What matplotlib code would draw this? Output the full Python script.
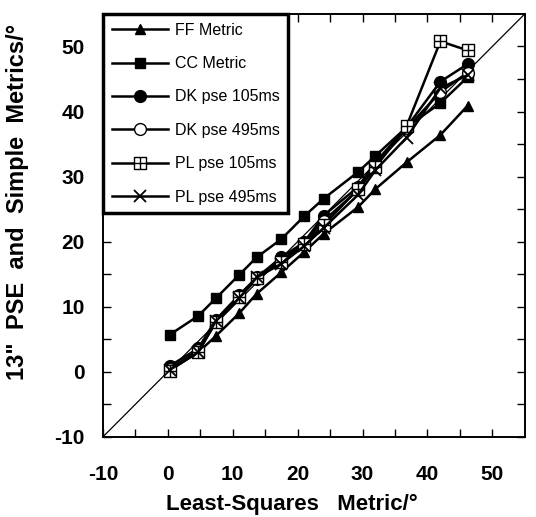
import numpy as np
import matplotlib.pyplot as plt
from matplotlib.path import Path

# least-squares metric (x) shared by all series
lsq = [0.3, 4.7, 7.4, 11.0, 13.7, 17.5, 21.0, 24.0, 29.3, 32.0, 36.8, 42.0, 46.2]

ff_metric = [0.3, 3.0, 5.5, 9.0, 12.0, 15.3, 18.4, 21.2, 25.3, 28.1, 32.2, 36.4, 40.9]
cc_metric = [5.7, 8.6, 11.3, 14.9, 17.6, 20.4, 23.9, 26.6, 30.7, 33.2, 37.6, 41.3, 45.3]
dk_105 = [0.9, 3.6, 8.0, 11.8, 14.5, 17.6, 19.9, 24.0, 28.4, 32.2, 37.6, 44.6, 47.3]
dk_495 = [0.4, 3.3, 7.6, 11.5, 14.2, 17.1, 19.8, 23.2, 27.9, 31.6, 37.4, 43.0, 46.0]
pl_105 = [0.2, 3.1, 7.6, 11.5, 14.4, 16.9, 19.6, 22.5, 28.1, 31.5, 37.8, 50.8, 49.4]
pl_495 = [0.3, 3.0, 7.8, 11.3, 14.5, 16.6, 19.3, 22.1, 27.2, 31.0, 36.0, 43.6, 45.6]

labels = ["FF Metric", "CC Metric", "DK pse 105ms", "DK pse 495ms",
          "PL pse 105ms", "PL pse 495ms"]

# square with a cross inside
sq_cross = Path(
    [(-1, -1), (1, -1), (1, 1), (-1, 1), (-1, -1),
     (0, -1), (0, 1), (-1, 0), (1, 0)],
    [Path.MOVETO, Path.LINETO, Path.LINETO, Path.LINETO, Path.CLOSEPOLY,
     Path.MOVETO, Path.LINETO, Path.MOVETO, Path.LINETO])

plt.rcParams['font.family'] = ['Liberation Sans', 'DejaVu Sans']
plt.rcParams['axes.unicode_minus'] = False

fig = plt.figure(figsize=(5.36, 5.17), dpi=100)
ax = fig.add_axes([0.192, 0.155, 0.787, 0.818])

# identity line
ax.plot([-10, 55], [-10, 55], color='black', lw=0.9, zorder=1)

styles = [
    dict(marker='^', ms=7.5, mfc='black', mec='black'),
    dict(marker='s', ms=7.5, mfc='black', mec='black'),
    dict(marker='o', ms=8.5, mfc='black', mec='black'),
    dict(marker='o', ms=8.5, mfc='white', mec='black', mew=1.0),
    dict(marker=sq_cross, ms=8.5, mfc='white', mec='black', mew=1.0),
    dict(marker='x', ms=8.5, mfc='black', mec='black', mew=1.3),
]
series = [ff_metric, cc_metric, dk_105, dk_495, pl_105, pl_495]

for ys, lab, st in zip(series, labels, styles):
    ax.plot(lsq, ys, color='black', lw=1.8, label=lab, zorder=3, **st)

ax.set_xlim(-10, 55)
ax.set_ylim(-10, 55)
ticks = np.arange(-10, 51, 10)
ax.set_xticks(ticks)
ax.set_yticks(ticks)
ax.set_xticks(np.arange(-5, 55, 10), minor=True)
ax.set_yticks(np.arange(-5, 55, 10), minor=True)
ax.tick_params(which='both', direction='in', top=True, right=True,
               length=6, width=1.0)
ax.tick_params(which='major', labelsize=15)
ax.tick_params(axis='x', which='major', pad=20)
ax.tick_params(axis='y', which='major', pad=13)
for lbl in ax.get_xticklabels() + ax.get_yticklabels():
    lbl.set_fontweight('bold')
for sp in ax.spines.values():
    sp.set_linewidth(1.4)

ax.set_xlabel("Least-Squares   Metric/°", fontsize=16, fontweight='bold')
ax.xaxis.set_label_coords(0.448, -0.135)
ax.set_ylabel('13"  PSE  and  Simple  Metrics/°', fontsize=17,
              fontweight='bold')
ax.yaxis.set_label_coords(-0.175, 0.556)

leg = ax.legend(loc='upper left', bbox_to_anchor=(0, 1), borderaxespad=0,
                fontsize=11.5, handlelength=3.5, labelspacing=1.15,
                handletextpad=0.45, borderpad=0.55, fancybox=False,
                framealpha=1, edgecolor='black')
leg.get_frame().set_linewidth(2.5)

fig.savefig('out.png', dpi=100)
